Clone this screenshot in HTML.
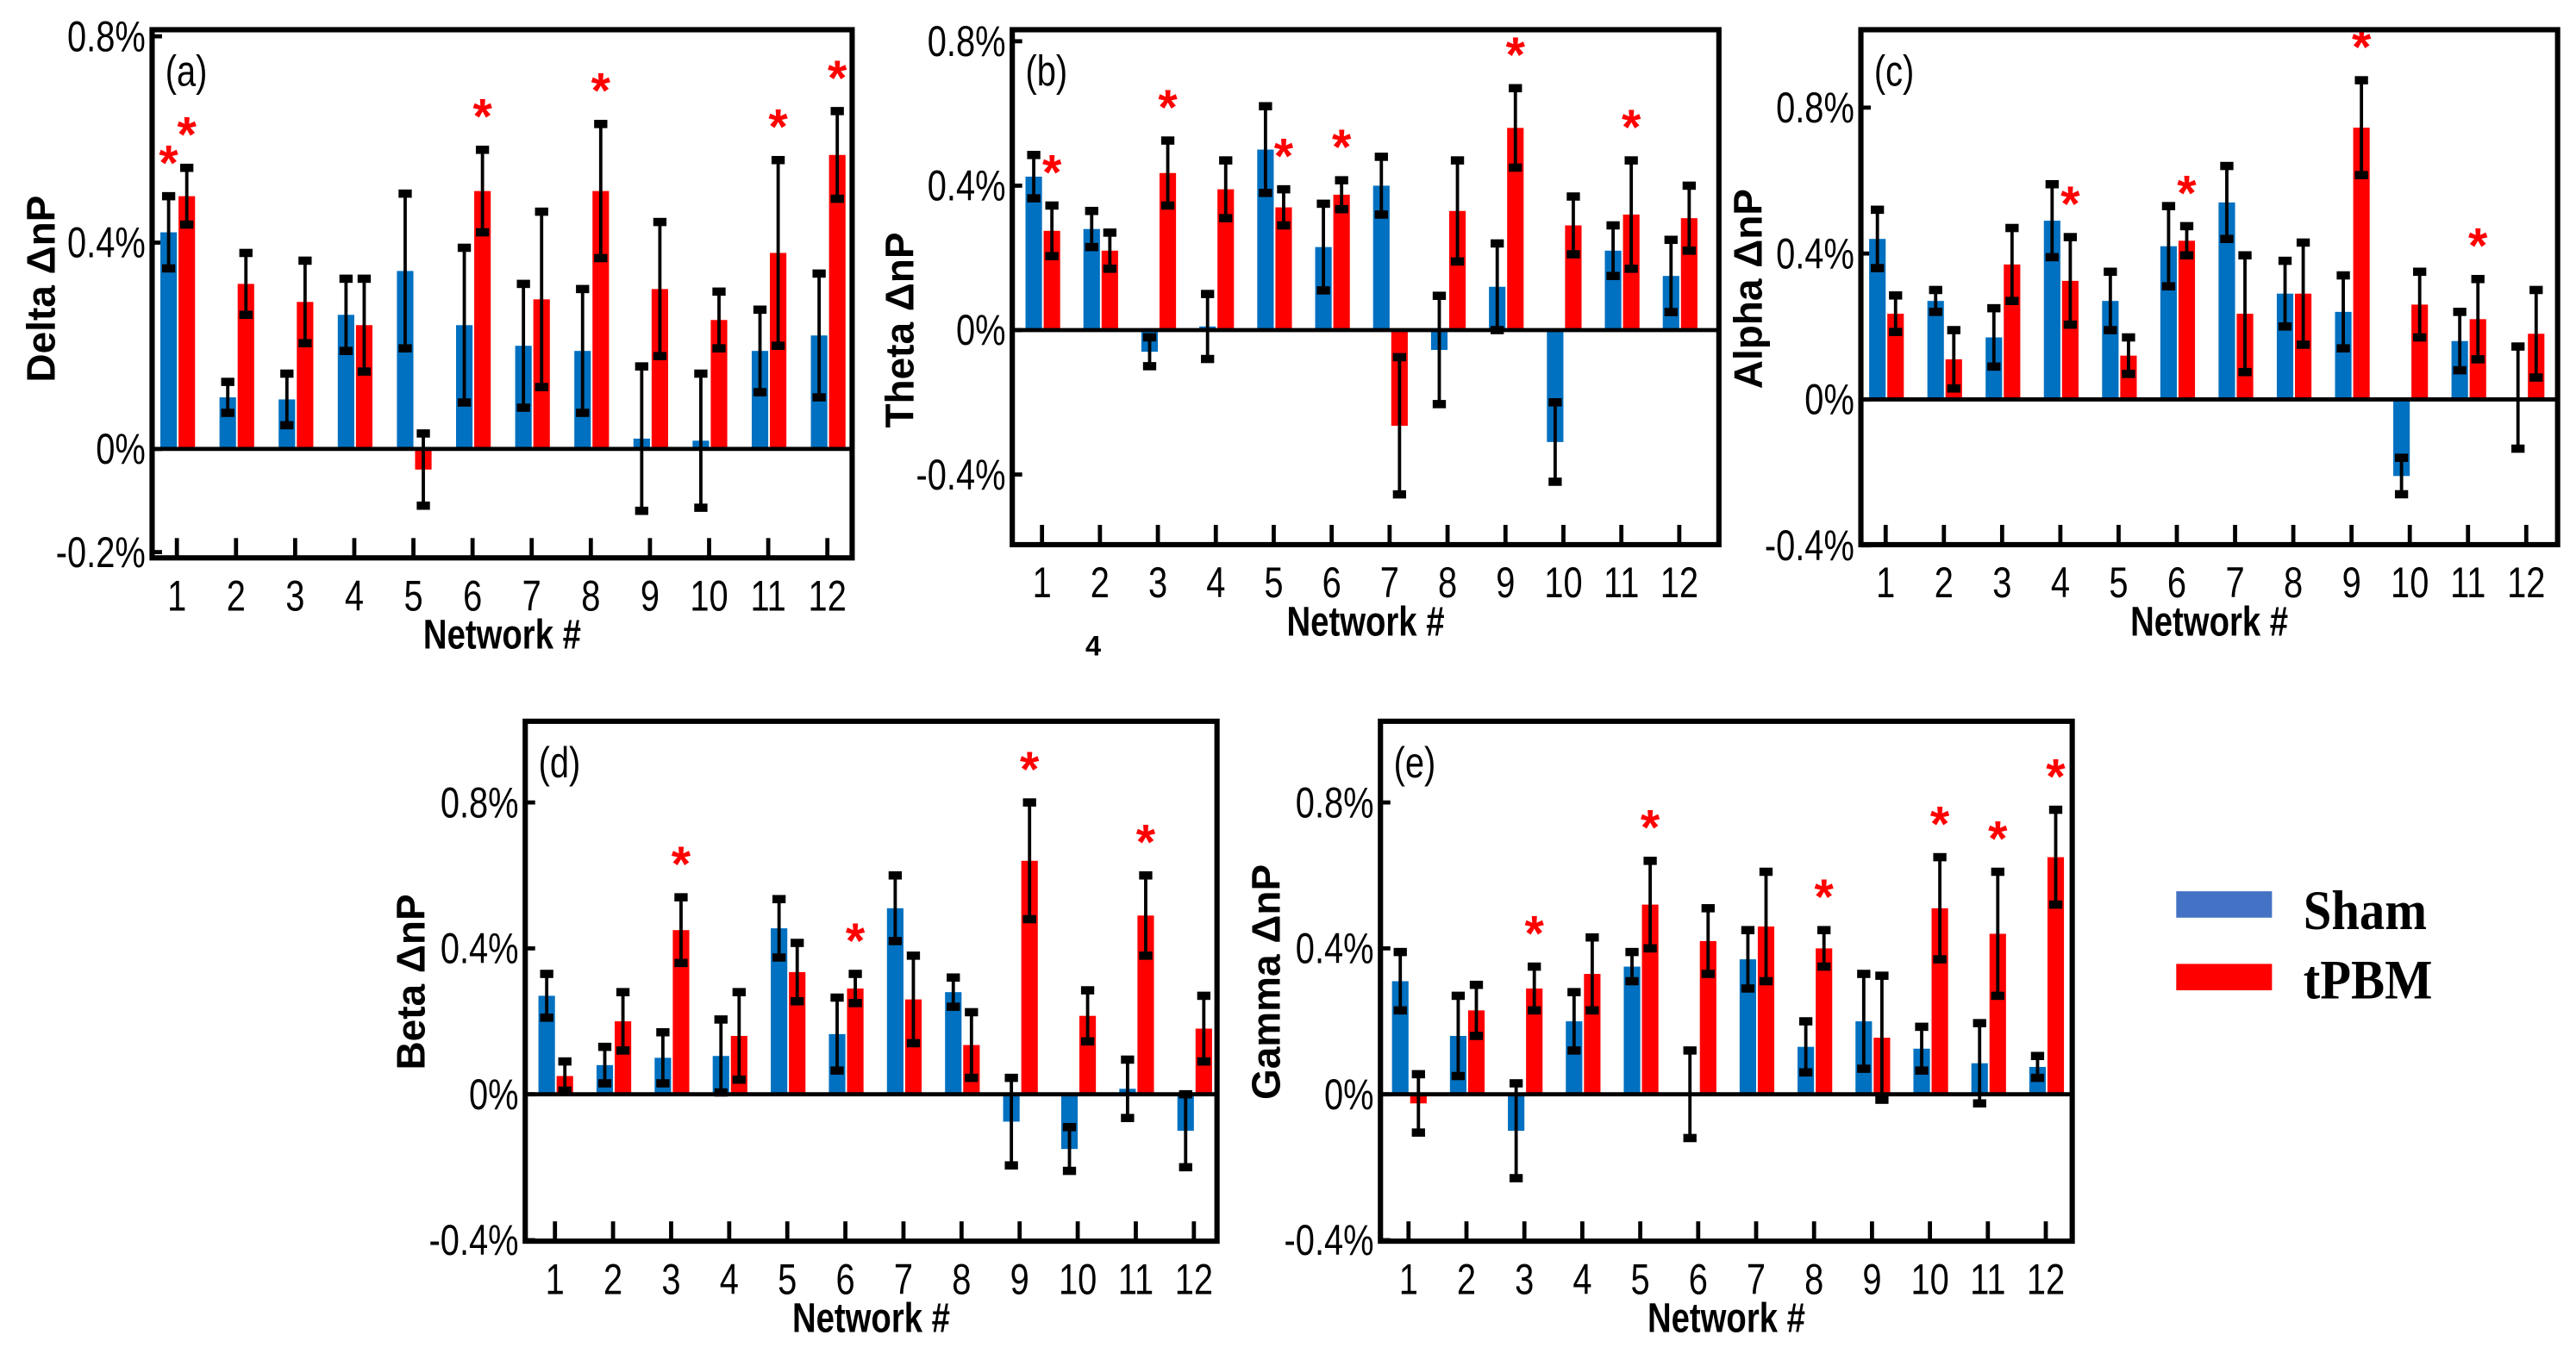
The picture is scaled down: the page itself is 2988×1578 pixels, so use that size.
<!DOCTYPE html>
<html><head><meta charset="utf-8"><style>
html,body{margin:0;padding:0;background:#fff;}
svg{display:block;}
</style></head><body>
<svg id="fig" width="2988" height="1578" viewBox="0 0 1560 824" xmlns="http://www.w3.org/2000/svg"></svg>
<script>
const categories = [1,2,3,4,5,6,7,8,9,10,11,12];
const yTicksA = [0.8,0.4,0,-0.2];
const yTicksB = [0.8,0.4,0,-0.4];
// Delta
const shamA = [0.42,0.10,0.096,0.26,0.345,0.24,0.20,0.19,0.02,0.016,0.19,0.22];
const shamErrA = [0.07,0.03,0.05,0.07,0.15,0.15,0.12,0.12,0.14,0.13,0.08,0.12];
const tpbmA = [0.49,0.32,0.285,0.24,-0.04,0.50,0.29,0.50,0.31,0.25,0.38,0.57];
const tpbmErrA = [0.055,0.06,0.08,0.09,0.07,0.08,0.17,0.13,0.13,0.055,0.18,0.085];
const starsA = [1,6,8,11,12];
// Theta
const shamB = [0.425,0.28,-0.06,0.01,0.50,0.23,0.40,-0.055,0.12,-0.31,0.22,0.15];
const shamErrB = [0.06,0.05,0.04,0.09,0.12,0.12,0.08,0.15,0.12,0.11,0.07,0.10];
const tpbmB = [0.275,0.22,0.435,0.39,0.34,0.375,-0.265,0.33,0.56,0.29,0.32,0.31];
const tpbmErrB = [0.07,0.05,0.09,0.08,0.05,0.04,0.19,0.14,0.11,0.08,0.15,0.09];
const starsB = [1,3,5,6,9,11];
// Alpha
const shamC = [0.44,0.27,0.17,0.49,0.27,0.42,0.54,0.29,0.24,-0.21,0.16,0.005];
const shamErrC = [0.08,0.03,0.08,0.10,0.08,0.11,0.10,0.09,0.10,0.05,0.08,0.14];
const tpbmC = [0.235,0.11,0.37,0.325,0.12,0.435,0.235,0.29,0.745,0.26,0.22,0.18];
const tpbmErrC = [0.05,0.08,0.10,0.12,0.05,0.04,0.16,0.14,0.13,0.09,0.11,0.12];
const starsC = [4,6,9,11];
// Beta
const shamD = [0.27,0.08,0.10,0.105,0.455,0.165,0.51,0.28,-0.075,-0.15,0.015,-0.10];
const shamErrD = [0.06,0.05,0.07,0.10,0.08,0.10,0.09,0.04,0.12,0.06,0.08,0.10];
const tpbmD = [0.05,0.20,0.45,0.16,0.335,0.29,0.26,0.135,0.64,0.215,0.49,0.18];
const tpbmErrD = [0.04,0.08,0.09,0.12,0.08,0.04,0.12,0.09,0.16,0.07,0.11,0.09];
const starsD = [3,6,9,11];
// Gamma
const shamE = [0.31,0.16,-0.10,0.20,0.35,0.0,0.37,0.13,0.20,0.125,0.085,0.075];
const shamErrE = [0.08,0.11,0.13,0.08,0.04,0.12,0.08,0.07,0.13,0.06,0.11,0.03];
const tpbmE = [-0.025,0.23,0.29,0.33,0.52,0.42,0.46,0.40,0.155,0.51,0.44,0.65];
const tpbmErrE = [0.08,0.07,0.06,0.10,0.12,0.09,0.15,0.05,0.17,0.14,0.17,0.13];
const starsE = [3,5,8,10,11,12];

const NS='http://www.w3.org/2000/svg';
const svg=document.getElementById('fig');
function mk(tag,attrs,parent){const e=document.createElementNS(NS,tag);for(const k in attrs)e.setAttribute(k,attrs[k]);(parent||svg).appendChild(e);return e;}
const TF='"Liberation Sans",sans-serif';
function ntext(parent,x,y,size,anchor,str,bold){
  const t=mk('text',{x:0,y:0,'font-family':TF,'font-size':size,'text-anchor':anchor,fill:'#000',transform:`translate(${x},${y}) scale(0.8,1)`},parent);
  if(bold)t.setAttribute('font-weight','bold');
  t.textContent=str;return t;
}

function panel(cfg){
  const g=mk('g',{});
  
  
  const y=v=>cfg.zeroY - v*cfg.pxPer;
  const x=i=>cfg.x1 + (cfg.x12-cfg.x1)*(i)/(categories.length-1);
  categories.forEach((c,i)=>{
    const t=mk('line',{x1:x(i),x2:x(i),y1:cfg.bottom,y2:cfg.bottom-12,stroke:'#000','stroke-width':2.5},g);
    
    
    const l=ntext(g,x(i),cfg.bottom+32,26,'middle',String(c));
    
    
  });
  cfg.yTicks.forEach(v=>{
    const l=ntext(g,cfg.left-4,y(v)+9,26,'end',(v===0?'0':v.toFixed(1))+'%');
    
    
    mk('line',{x1:cfg.left,x2:cfg.left+6,y1:y(v),y2:y(v),stroke:'#000','stroke-width':2.5},g);
  });
  const bw=10;
  function series(vals,errs,color,off,name){
    vals.forEach((v,i)=>{
      const cx=x(i)+off;
      const top=Math.min(y(v),y(0)), h=Math.abs(y(v)-y(0));
      const r=mk('rect',{x:cx-bw/2,y:top,width:bw,height:h,fill:color},g);
      
      
      const e1=y(v+errs[i]), e2=y(v-errs[i]);
      const eb=mk('g',{},g);
      
      
      mk('line',{x1:cx,x2:cx,y1:e1,y2:e2,stroke:'#000','stroke-width':2},eb);
      [e1,e2].forEach(yy=>mk('rect',{x:cx-4,y:yy-2.5,width:8,height:5,fill:'#000'},eb));
    });
  }
  series(cfg.sham,cfg.shamErr,'#0070c0',-5,'sham');
  series(cfg.tpbm,cfg.tpbmErr,'#ff0000',6,'tpbm');
  const z=mk('line',{x1:cfg.left,x2:cfg.right,y1:y(0),y2:y(0),stroke:'#000','stroke-width':2.5},g);
  
  
  cfg.stars.forEach(n=>{
    const i=categories.indexOf(n);
    const top=y(cfg.tpbm[i]+cfg.tpbmErr[i]);
    const s=mk('text',{x:x(i)+6,y:top-10,'font-family':TF,'font-size':30,'font-weight':'bold','text-anchor':'middle',fill:'#ff0000'},g);
    s.textContent='*';
    
    
  });
  if(cfg.extraStar){
    const i=0;const top=y(cfg.sham[i]+cfg.shamErr[i]);
    const s=mk('text',{x:x(i)-5,y:top-10,'font-family':TF,'font-size':30,'font-weight':'bold','text-anchor':'middle',fill:'#ff0000'},g);
    s.textContent='*';
    
    
  }
  const b=mk('rect',{x:cfg.left,y:cfg.top,width:cfg.right-cfg.left,height:cfg.bottom-cfg.top,fill:'none',stroke:'#000','stroke-width':3.2},g);
  
  
  const lt=ntext(g,cfg.left+8,cfg.top+34,26,'start','('+cfg.letter+')');
  
  
  const xt=ntext(g,(cfg.left+cfg.right)/2,cfg.bottom+55,25,'middle','Network #',true);
  
  
  const ytl=mk('text',{x:0,y:0,'font-family':TF,'font-size':24,'font-weight':'bold','text-anchor':'middle',fill:'#000',transform:`translate(${cfg.ytX},${cfg.ytY}) rotate(-90)`},g);
  ytl.textContent=cfg.ytitle+' \u0394nP';
  
  
}

panel({letter:'a',left:92,right:516,top:18,bottom:338,zeroY:272,pxPer:312.5,x1:107,x12:501,yTicks:yTicksA,
  sham:shamA,shamErr:shamErrA,tpbm:tpbmA,tpbmErr:tpbmErrA,stars:starsA,extraStar:true,ytitle:'Delta',ytX:33,ytY:175});
panel({letter:'b',left:613,right:1041,top:18,bottom:330,zeroY:200,pxPer:218.75,x1:631,x12:1017,yTicks:yTicksB,
  sham:shamB,shamErr:shamErrB,tpbm:tpbmB,tpbmErr:tpbmErrB,stars:starsB,ytitle:'Theta',ytX:553,ytY:200});
panel({letter:'c',left:1127,right:1549,top:18,bottom:330,zeroY:242,pxPer:221,x1:1142,x12:1530,yTicks:yTicksB,
  sham:shamC,shamErr:shamErrC,tpbm:tpbmC,tpbmErr:tpbmErrC,stars:starsC,ytitle:'Alpha',ytX:1067,ytY:175});
panel({letter:'d',left:318,right:737,top:437,bottom:752,zeroY:663,pxPer:221,x1:336,x12:723,yTicks:yTicksB,
  sham:shamD,shamErr:shamErrD,tpbm:tpbmD,tpbmErr:tpbmErrD,stars:starsD,ytitle:'Beta',ytX:257,ytY:595});
panel({letter:'e',left:836,right:1255,top:437,bottom:752,zeroY:663,pxPer:221,x1:853,x12:1239,yTicks:yTicksB,
  sham:shamE,shamErr:shamErrE,tpbm:tpbmE,tpbmErr:tpbmErrE,stars:starsE,ytitle:'Gamma',ytX:775,ytY:595});

const four=mk('text',{x:662,y:397,'font-family':TF,'font-size':17,'font-weight':'bold','text-anchor':'middle',fill:'#000'});
four.textContent='4';



const leg=mk('g',{});


const l1=mk('rect',{x:1318,y:540,width:58,height:16,fill:'#4472c4'},leg);


const t1=mk('text',{x:0,y:0,'font-family':'"Liberation Serif",serif','font-size':34,'font-weight':'bold',fill:'#000',transform:'translate(1395,563) scale(0.9,1)'},leg);
t1.textContent='Sham';


const l2=mk('rect',{x:1318,y:584,width:58,height:16,fill:'#ff0000'},leg);


const t2=mk('text',{x:0,y:0,'font-family':'"Liberation Serif",serif','font-size':34,'font-weight':'bold',fill:'#000',transform:'translate(1395,605) scale(0.9,1)'},leg);
t2.textContent='tPBM';


</script>
</body></html>
